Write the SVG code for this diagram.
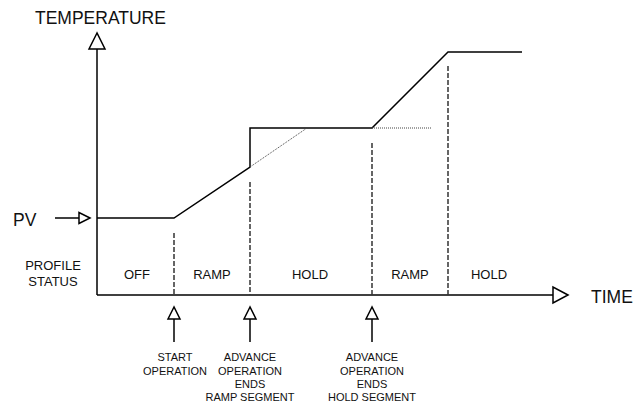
<svg xmlns="http://www.w3.org/2000/svg" width="634" height="402" viewBox="0 0 634 402">
<style>
  .ln{fill:none;stroke:#000;stroke-width:1.5}
  .dash{fill:none;stroke:#333;stroke-width:1.5;stroke-dasharray:5,2}
  .dot{fill:none;stroke:#444;stroke-width:1;stroke-dasharray:1,1}
  .head{fill:#fff;stroke:#000;stroke-width:1.5;stroke-linejoin:miter}
  .big{font-family:"Liberation Sans",Arial,sans-serif;font-size:17.5px;fill:#111}
  .mid{font-family:"Liberation Sans",Arial,sans-serif;font-size:13px;fill:#111;text-anchor:middle}
  .sm{font-family:"Liberation Sans",Arial,sans-serif;font-size:11px;fill:#111;text-anchor:middle}
</style>
<rect width="634" height="402" fill="#fff"/>
<g id="connectors">
  <g id="y-axis">
    <line class="ln" x1="97" y1="295" x2="97" y2="49"/>
    <polygon class="head" points="97,33 89,49 105,49"/>
  </g>
  <g id="x-axis">
    <line class="ln" x1="97" y1="295" x2="553" y2="295"/>
    <polygon class="head" points="568,295 553,287 553,303"/>
  </g>
  <g id="pv-arrow">
    <line class="ln" x1="55" y1="218" x2="79" y2="218"/>
    <polygon class="head" points="90,218 79,212.5 79,223.5"/>
  </g>
  <g id="profile">
    <polyline class="ln" points="97,218 174,218 250,167 250,128 372,128 448,52 522,52"/>
    <line class="dot" x1="250" y1="167" x2="307" y2="128"/>
    <line class="dot" x1="372" y1="128" x2="432" y2="128"/>
  </g>
  <g id="dividers">
    <line class="dash" x1="174" y1="233" x2="174" y2="295"/>
    <line class="dash" x1="250" y1="182" x2="250" y2="295"/>
    <line class="dash" x1="372" y1="143" x2="372" y2="295"/>
    <line class="dash" x1="448" y1="66" x2="448" y2="295"/>
  </g>
  <g id="event-arrows">
    <line class="ln" x1="174" y1="319" x2="174" y2="342"/>
    <polygon class="head" points="174,307 168,319 180,319"/>
    <line class="ln" x1="250" y1="319" x2="250" y2="342"/>
    <polygon class="head" points="250,307 244,319 256,319"/>
    <line class="ln" x1="372" y1="319" x2="372" y2="342"/>
    <polygon class="head" points="372,307 366,319 378,319"/>
  </g>
</g>
<g id="label-temperature"><text class="big" x="35" y="24">TEMPERATURE</text></g>
<g id="label-time"><text class="big" x="591" y="303">TIME</text></g>
<g id="label-pv"><text class="big" x="13" y="226">PV</text></g>
<g id="label-profile-status">
  <text class="mid" x="53" y="270">PROFILE</text>
  <text class="mid" x="53" y="286">STATUS</text>
</g>
<g id="status-off"><text class="mid" x="137" y="279">OFF</text></g>
<g id="status-ramp1"><text class="mid" x="212" y="279">RAMP</text></g>
<g id="status-hold1"><text class="mid" x="310" y="279">HOLD</text></g>
<g id="status-ramp2"><text class="mid" x="410" y="279">RAMP</text></g>
<g id="status-hold2"><text class="mid" x="489" y="279">HOLD</text></g>
<g id="event-start">
  <text class="sm" x="175" y="360.5">START</text>
  <text class="sm" x="175" y="374.5">OPERATION</text>
</g>
<g id="event-advance-ramp">
  <text class="sm" x="250" y="360.5">ADVANCE</text>
  <text class="sm" x="250" y="374.5">OPERATION</text>
  <text class="sm" x="250" y="388">ENDS</text>
  <text class="sm" x="250" y="401">RAMP SEGMENT</text>
</g>
<g id="event-advance-hold">
  <text class="sm" x="372" y="360.5">ADVANCE</text>
  <text class="sm" x="372" y="374.5">OPERATION</text>
  <text class="sm" x="372" y="388">ENDS</text>
  <text class="sm" x="372" y="401">HOLD SEGMENT</text>
</g>
</svg>
